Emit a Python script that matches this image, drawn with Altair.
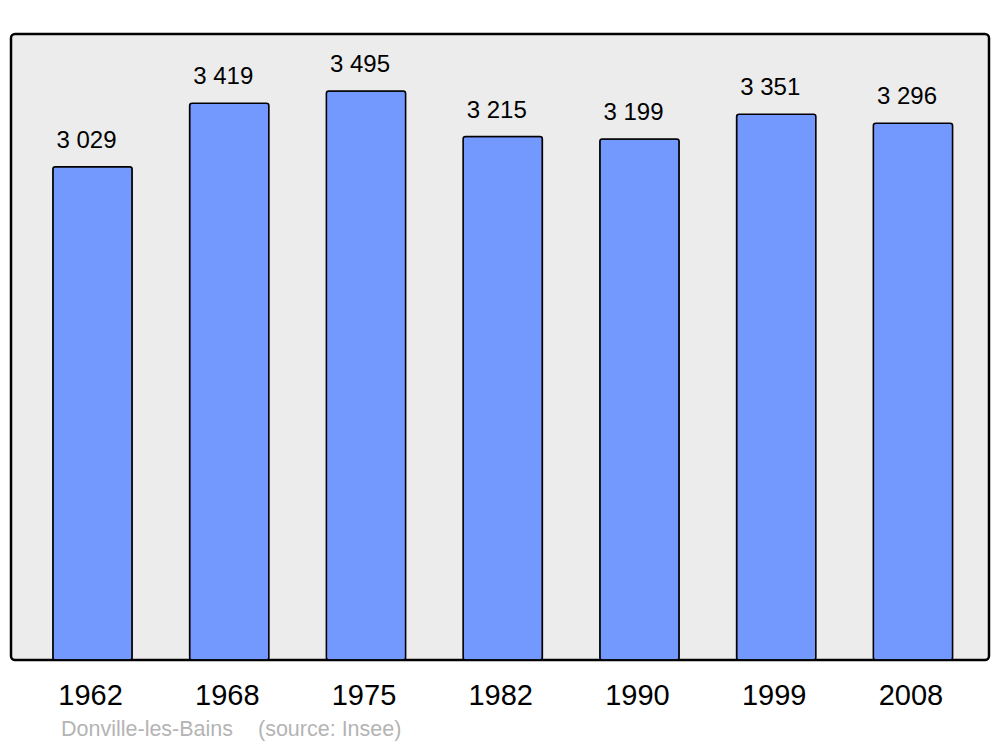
import altair as alt
import pandas as pd

years = ["1962", "1968", "1975", "1982", "1990", "1999", "2008"]
population = [3029, 3419, 3495, 3215, 3199, 3351, 3296]
labels = ["3 029", "3 419", "3 495", "3 215", "3 199", "3 351", "3 296"]
place = "Donville-les-Bains"
source = "(source: Insee)"

df = pd.DataFrame({"year": years, "pop": population, "label": labels})

FONT = "Liberation Sans"

x = alt.X("year:N", sort=years, title=None,
          scale=alt.Scale(paddingInner=0.42, paddingOuter=0.286, align=0.535),
          axis=alt.Axis(labelAngle=0, labelFontSize=29, labelFont=FONT, labelColor="black",
                        domain=False, ticks=False, labelPadding=21, labelOffset=-2, grid=False))
y = alt.Y("pop:Q", title=None, scale=alt.Scale(domain=[0, 3844.5], nice=False, zero=True),
          axis=None)

bars = alt.Chart(df).mark_bar(color="#7399ff", stroke="black", strokeWidth=1.5,
                              cornerRadius=2.5).encode(x=x, y=y)

text = alt.Chart(df).mark_text(fontSize=24, font=FONT, color="black", baseline="alphabetic",
                               dy=-19, dx=-6).encode(x=x, y=y, text="label:N")

foot1 = alt.Chart(pd.DataFrame({"t": [place]})).mark_text(
    fontSize=21.5, font=FONT, color="#b4b4b4", align="left", baseline="middle"
).encode(x=alt.value(50), y=alt.value(696), text="t:N")
foot2 = alt.Chart(pd.DataFrame({"t": [source]})).mark_text(
    fontSize=21.5, font=FONT, color="#b4b4b4", align="left", baseline="middle"
).encode(x=alt.value(247), y=alt.value(696), text="t:N")

chart = (bars + text + foot1 + foot2).properties(
    width=978, height=626,
    padding={"left": 3, "top": 26, "right": 3, "bottom": 90},
    autosize=alt.AutoSizeParams(type="none"),
    background="white",
).configure_view(
    fill="#ececec", stroke="black", strokeWidth=2.5, cornerRadius=4
)

chart.save("out.html", embed_options={"renderer": "svg", "actions": False})
